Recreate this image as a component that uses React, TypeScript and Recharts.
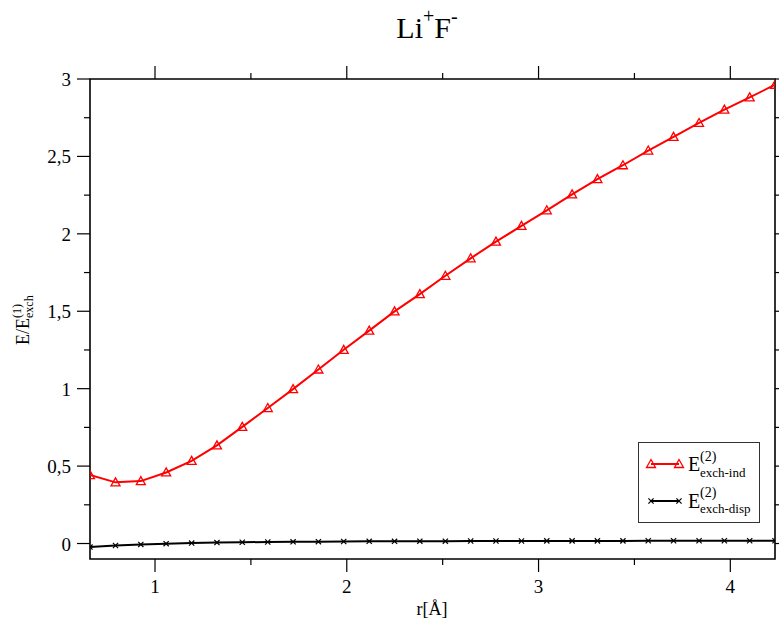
import { LineChart, Line, XAxis, YAxis, ReferenceArea, Legend } from 'recharts';

// r grid in angstrom (1.25 ... 8.0 bohr, step 0.25 bohr)
const rAngstrom = [
  0.661, 0.794, 0.926, 1.058, 1.191, 1.323, 1.455, 1.588, 1.72, 1.852, 1.984, 2.117, 2.249, 2.381,
  2.514, 2.646, 2.778, 2.911, 3.043, 3.175, 3.307, 3.44, 3.572, 3.704, 3.837, 3.969, 4.101, 4.233,
];

// E(2) exch-ind / E(1) exch
const exchInd = [
  0.442, 0.395, 0.403, 0.459, 0.534, 0.634, 0.753, 0.875, 0.997, 1.124, 1.251, 1.375, 1.499, 1.611,
  1.729, 1.842, 1.95, 2.051, 2.152, 2.255, 2.353, 2.443, 2.538, 2.626, 2.716, 2.802, 2.881, 2.963,
];

// E(2) exch-disp / E(1) exch
const exchDisp = [
  -0.023, -0.013, -0.006, -0.001, 0.003, 0.006, 0.008, 0.01, 0.011, 0.012, 0.013, 0.014, 0.014, 0.015,
  0.015, 0.016, 0.016, 0.016, 0.017, 0.017, 0.017, 0.017, 0.018, 0.018, 0.018, 0.018, 0.018, 0.018,
];

const xMajor = [1, 2, 3, 4];
const xMinor = [1.5, 2.5, 3.5];
const yMajor = [0, 0.5, 1, 1.5, 2, 2.5, 3];
const yMinor = [0.25, 0.75, 1.25, 1.75, 2.25, 2.75];

const data = rAngstrom.map((r, i) => ({ r, ind: exchInd[i], disp: exchDisp[i] }));

const W = 779;
const H = 623;
const MARGIN = { top: 79, right: 4, bottom: 0, left: 0 };
const Y_AXIS_W = 90;
const X_AXIS_H = 64;
const PLOT_W = W - MARGIN.right - Y_AXIS_W;
const PLOT_H = H - MARGIN.top - X_AXIS_H;
const MAJOR_LEN = 13;
const MINOR_LEN = 6;
const FONT = "'Liberation Serif', 'Times New Roman', serif";

const fmt = (v: number) => String(v).replace('.', ',');

// ticks go outward on every side of the frame; labels only on bottom/left
function XTick(props: any) {
  const { x, y, payload } = props;
  const major = xMajor.includes(payload.value);
  const len = major ? MAJOR_LEN : MINOR_LEN;
  const top = y - PLOT_H;
  return (
    <g>
      <line x1={x} y1={y} x2={x} y2={y + len} stroke="#000" strokeWidth={1.2} />
      <line x1={x} y1={top} x2={x} y2={top - len} stroke="#000" strokeWidth={1.2} />
      {major && (
        <text x={x} y={y + 34} textAnchor="middle" fontSize={19} fill="#000">
          {fmt(payload.value)}
        </text>
      )}
    </g>
  );
}

function YTick(props: any) {
  const { x, y, payload } = props;
  const major = yMajor.includes(payload.value);
  const len = major ? MAJOR_LEN : MINOR_LEN;
  const right = x + PLOT_W;
  return (
    <g>
      <line x1={x} y1={y} x2={x - len} y2={y} stroke="#000" strokeWidth={1.2} />
      <line x1={right} y1={y} x2={right + len} y2={y} stroke="#000" strokeWidth={1.2} />
      {major && (
        <text x={x - len - 6} y={y + 7} textAnchor="end" fontSize={19} fill="#000">
          {fmt(payload.value)}
        </text>
      )}
    </g>
  );
}

function Triangle({ cx, cy, stroke }: { cx: number; cy: number; stroke: string }) {
  return (
    <polygon
      points={`${cx},${cy - 4.5} ${cx - 4.5},${cy + 3.5} ${cx + 4.5},${cy + 3.5}`}
      fill="none"
      stroke={stroke}
      strokeWidth={1.3}
    />
  );
}

function Cross({ cx, cy, stroke }: { cx: number; cy: number; stroke: string }) {
  const s = 2.6;
  return (
    <g stroke={stroke} strokeWidth={1.2}>
      <line x1={cx - s} y1={cy - s} x2={cx + s} y2={cy + s} />
      <line x1={cx - s} y1={cy + s} x2={cx + s} y2={cy - s} />
    </g>
  );
}

function LegendBox() {
  return (
    <svg width={123} height={82} style={{ display: 'block', fontFamily: FONT }}>
      <rect x={0.5} y={0.5} width={121} height={80} fill="#fff" stroke="#333" strokeWidth={1} />
      <line x1={13} y1={22} x2={41} y2={22} stroke="#ff0000" strokeWidth={2} />
      <Triangle cx={13} cy={22} stroke="#ff0000" />
      <Triangle cx={41} cy={22} stroke="#ff0000" />
      <text x={50} y={29} fontSize={20} fill="#000">E</text>
      <text x={62} y={19} fontSize={14} fill="#000">(2)</text>
      <text x={62} y={35} fontSize={13} fill="#000">exch-ind</text>

      <line x1={13} y1={59} x2={41} y2={59} stroke="#000" strokeWidth={2} />
      <Cross cx={13} cy={59} stroke="#000" />
      <Cross cx={41} cy={59} stroke="#000" />
      <text x={50} y={66} fontSize={20} fill="#000">E</text>
      <text x={62} y={55} fontSize={14} fill="#000">(2)</text>
      <text x={62} y={71} fontSize={13} fill="#000">exch-disp</text>
    </svg>
  );
}

export default function App() {
  return (
    <div
      style={{
        position: 'absolute',
        left: 0,
        top: 0,
        width: W,
        height: H,
        background: '#fff',
        fontFamily: FONT,
      }}
    >
      <LineChart width={W} height={H} data={data} margin={MARGIN}>
        <XAxis
          dataKey="r"
          type="number"
          domain={[0.661, 4.233]}
          allowDataOverflow
          ticks={[...xMajor, ...xMinor]}
          interval={0}
          tickSize={0}
          tickMargin={0}
          axisLine={false}
          tickLine={false}
          tick={(p: any) => <XTick key={`xt${p.index}`} {...p} />}
          height={X_AXIS_H}
        />
        <YAxis
          type="number"
          domain={[-0.1, 3]}
          allowDataOverflow
          ticks={[...yMajor, ...yMinor]}
          interval={0}
          tickSize={0}
          tickMargin={0}
          axisLine={false}
          tickLine={false}
          tick={(p: any) => <YTick key={`yt${p.index}`} {...p} />}
          width={Y_AXIS_W}
        />
        <ReferenceArea
          x1={0.661}
          x2={4.233}
          y1={-0.1}
          y2={3}
          fill="none"
          stroke="#000"
          strokeWidth={1.6}
          ifOverflow="visible"
        />
        <Line
          type="linear"
          dataKey="disp"
          stroke="#000"
          strokeWidth={2}
          isAnimationActive={false}
          dot={(p: any) => <Cross key={`d${p.index}`} cx={p.cx} cy={p.cy} stroke="#000" />}
        />
        <Line
          type="linear"
          dataKey="ind"
          stroke="#ff0000"
          strokeWidth={2}
          isAnimationActive={false}
          dot={(p: any) => <Triangle key={`i${p.index}`} cx={p.cx} cy={p.cy} stroke="#ff0000" />}
        />
        <Legend
          layout="vertical"
          align="center"
          verticalAlign="middle"
          content={() => <LegendBox />}
          wrapperStyle={{ left: 638, top: 442, width: 123, height: 82 }}
        />
      </LineChart>

      <svg
        width={W}
        height={H}
        style={{ position: 'absolute', left: 0, top: 0, pointerEvents: 'none', fontFamily: FONT }}
      >
        <text x={427} y={38} textAnchor="middle" fontSize={30} fill="#000">
          Li
          <tspan fontSize={20} dy={-15}>+</tspan>
          <tspan dy={15}>F</tspan>
          <tspan fontSize={20} dy={-15}>-</tspan>
        </text>

        <g transform="translate(29,345) rotate(-90)">
          <text x={0} y={0} fontSize={18} fill="#000">E/E</text>
          <text x={27} y={-8} fontSize={12} fill="#000">(1)</text>
          <text x={27} y={4} fontSize={12} fill="#000">exch</text>
        </g>

        <text x={432} y={615} textAnchor="middle" fontSize={18} fill="#000">
          r[Å]
        </text>
      </svg>
    </div>
  );
}
